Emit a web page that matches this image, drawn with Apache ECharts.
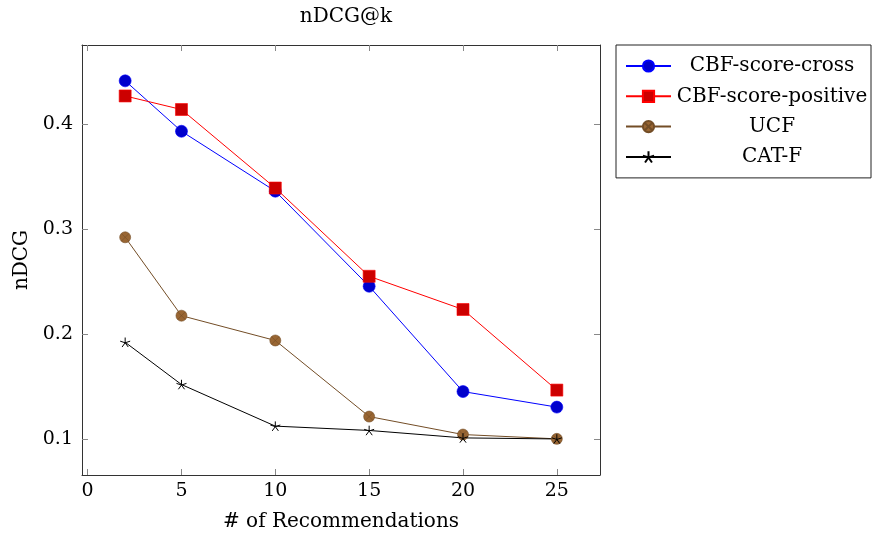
<!DOCTYPE html>
<html>
<head>
<meta charset="utf-8">
<script src="https://cdn.jsdelivr.net/npm/echarts@6/dist/echarts.min.js"></script>
<style>html,body{margin:0;padding:0;background:#fff}#c{width:872px;height:537px}</style>
</head>
<body>
<div id="c"></div>
<script>
const kValues = [2, 5, 10, 15, 20, 25];
const cbfScoreCross = [0.4410, 0.3930, 0.3360, 0.2455, 0.1453, 0.1305];
const cbfScorePositive = [0.4266, 0.4137, 0.3390, 0.2550, 0.2234, 0.1467];
const ucf = [0.2921, 0.2175, 0.1939, 0.1215, 0.1044, 0.1003];
const catF = [0.1922, 0.1520, 0.1124, 0.1083, 0.1012, 0.1002];
const seriesNames = ['CBF-score-cross', 'CBF-score-positive', 'UCF', 'CAT-F'];
const xTicks = [0, 5, 10, 15, 20, 25];
const yTicks = [0.1, 0.2, 0.3, 0.4];

const FONT = 'DejaVu Serif';
const FS = 20;
const TFS = 19;
const pairs = arr => kValues.map((k, i) => [k, arr[i]]);
const starPath = 'path://M0 0L0 -1M0 0L0.951 -0.309M0 0L0.588 0.809M0 0L-0.588 0.809M0 0L-0.951 -0.309';
const otimesPath = 'path://M-1 0A1 1 0 1 0 1 0A1 1 0 1 0 -1 0ZM-0.707 -0.707L0.707 0.707M-0.707 0.707L0.707 -0.707';

const xRange = {min: -0.3, max: 27.3};
const yRange = {min: 0.0659, max: 0.4751};

const tickStyle = {show: true, inside: true, length: 6, lineStyle: {color: '#888', width: 1}};
const lineStyle = {show: true, onZero: false, lineStyle: {color: '#333', width: 1}};

const chart = echarts.init(document.getElementById('c'), null, {renderer: 'canvas'});
chart.setOption({
  animation: false,
  backgroundColor: '#fff',
  title: {
    text: 'nDCG@k', left: 341, top: 2, textAlign: 'center',
    textStyle: {fontFamily: FONT, fontSize: FS, fontWeight: 'normal', color: '#000'}
  },
  grid: {left: 82, top: 45, width: 518, height: 431, show: false},
  legend: {
    orient: 'vertical', left: 616, top: 45,
    padding: [11, 3, 11, 9], itemGap: 10.3, itemWidth: 45, itemHeight: 14,
    borderColor: '#222', borderWidth: 1, backgroundColor: '#fff',
    data: seriesNames,
    formatter: '{c|{name}}',
    textStyle: {
      fontFamily: FONT, fontSize: FS, color: '#000',
      rich: {c: {width: 192, lineHeight: 20, align: 'center', fontFamily: FONT, fontSize: FS, color: '#000'}}
    }
  },
  xAxis: [
    {
      type: 'value', position: 'bottom', ...xRange,
      name: '# of Recommendations', nameLocation: 'middle', nameGap: 37,
      nameTextStyle: {fontFamily: FONT, fontSize: FS, color: '#000'},
      axisLine: lineStyle, splitLine: {show: false},
      axisTick: {...tickStyle, customValues: xTicks},
      axisLabel: {customValues: xTicks, fontFamily: FONT, fontSize: TFS, color: '#000', margin: 7}
    },
    {
      type: 'value', position: 'top', ...xRange,
      axisLine: lineStyle, splitLine: {show: false},
      axisTick: {...tickStyle, customValues: xTicks},
      axisLabel: {show: false}
    }
  ],
  yAxis: [
    {
      type: 'value', position: 'left', ...yRange,
      name: 'nDCG', nameLocation: 'middle', nameGap: 50, nameRotate: 90,
      nameTextStyle: {fontFamily: FONT, fontSize: FS, color: '#000'},
      axisLine: lineStyle, splitLine: {show: false},
      axisTick: {...tickStyle, customValues: yTicks},
      axisLabel: {customValues: yTicks, fontFamily: FONT, fontSize: TFS, color: '#000', margin: 9,
                  formatter: v => v.toFixed(1)}
    },
    {
      type: 'value', position: 'right', ...yRange,
      axisLine: lineStyle, splitLine: {show: false},
      axisTick: {...tickStyle, customValues: yTicks},
      axisLabel: {show: false}
    }
  ],
  series: [
    {
      name: seriesNames[0], type: 'line', data: pairs(cbfScoreCross),
      symbol: 'circle', symbolSize: 12,
      lineStyle: {color: '#0000ff', width: 1},
      itemStyle: {color: '#0000cc', borderColor: '#0000ff', borderWidth: 0.6}
    },
    {
      name: seriesNames[1], type: 'line', data: pairs(cbfScorePositive),
      symbol: 'rect', symbolSize: 12,
      lineStyle: {color: '#ff0000', width: 1},
      itemStyle: {color: '#cc0000', borderColor: '#ff0000', borderWidth: 0.6}
    },
    {
      name: seriesNames[2], type: 'line', data: pairs(ucf),
      symbol: otimesPath, symbolSize: 11, symbolKeepAspect: true,
      lineStyle: {color: '#734d26', width: 1},
      itemStyle: {color: '#996633', borderColor: '#734d26', borderWidth: 0.6}
    },
    {
      name: seriesNames[3], type: 'line', data: pairs(catF),
      symbol: starPath, symbolSize: 10, symbolKeepAspect: true,
      lineStyle: {color: '#000', width: 1},
      itemStyle: {color: 'none', borderColor: '#000', borderWidth: 1}
    }
  ]
});
</script>
</body>
</html>
